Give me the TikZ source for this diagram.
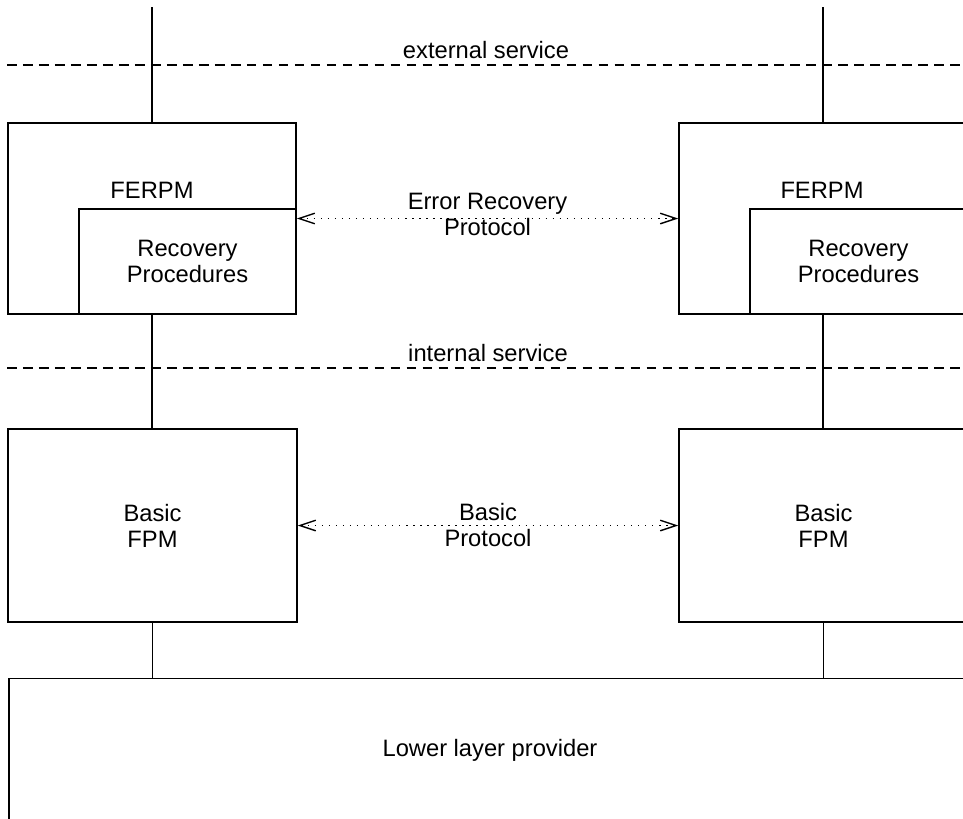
\documentclass[tikz,border=0pt]{standalone}
\usepackage{fontspec}
\setmainfont{Liberation Sans}
\usetikzlibrary{arrows.meta}

\begin{document}
\begin{tikzpicture}[x=0.02cm, y=-0.02cm,
  font=\fontsize{13.5}{14.8}\selectfont,
  box/.style={draw, line width=0.9pt, inner sep=0pt, align=center},
  link/.style={line width=0.8pt},
  servline/.style={line width=0.8pt, dash pattern=on 5.5pt off 3.6pt},
  proto/.style={line width=0.8pt, dash pattern=on 0.8pt off 3.2pt,
    {Straight Barb[length=9pt,width=6pt,line width=0.8pt]}-{Straight Barb[length=9pt,width=6pt,line width=0.8pt]}},
  plabel/.style={midway, align=center}]
\useasboundingbox (0,0) rectangle (963,818);
\clip (0,0) rectangle (963,818);

% service boundaries
\coordinate (extW) at (7,65);
\coordinate (extE) at (963,65);
\coordinate (intW) at (7,368);
\coordinate (intE) at (963,368);
\draw[servline] (extW) -- (extE);
\draw[servline] (intW) -- (intE);
\node (extlbl) at (486,50) {external service};
\node (intlbl) at (488,353.5) {internal service};

% FERPM entities
\node[box, minimum width=5.76cm, minimum height=3.82cm] (ferpmL) at (152,218.5) {};
\node[box, minimum width=4.34cm, minimum height=2.1cm, anchor=south east] (recL) at (ferpmL.south east) {Recovery\\Procedures};
\node (ttlL) at (152,190) {FERPM};
\node[box, minimum width=5.76cm, minimum height=3.82cm] (ferpmR) at (823,218.5) {};
\node[box, minimum width=4.34cm, minimum height=2.1cm, anchor=south east] (recR) at (ferpmR.south east) {Recovery\\Procedures};
\node (ttlR) at (822,190) {FERPM};

% basic FPM entities
\node[box, minimum width=5.78cm, minimum height=3.86cm] (basicL) at (152.5,525.5) {Basic\\FPM};
\node[box, minimum width=5.78cm, minimum height=3.86cm] (basicR) at (823.5,525.5) {Basic\\FPM};

% provider below
\node[box, minimum width=19.24cm, minimum height=2.86cm] (lower) at (490,750) {Lower layer provider};

% vertical links
\coordinate (topL) at (152,7);
\coordinate (topR) at (823,7);
\draw[link] (topL) -- (ferpmL.north);
\draw[link] (topR) -- (ferpmR.north);
\draw[link] (ferpmL.south) -- (ferpmL.south |- basicL.north);
\draw[link] (ferpmR.south) -- (ferpmR.south |- basicR.north);
\draw[link] (basicL.south) -- (basicL.south |- lower.north);
\draw[link] (basicR.south) -- (basicR.south |- lower.north);

% peer protocols
\draw[proto] (ferpmL.east) -- (ferpmR.west) node[plabel, yshift=2.3pt] (erp) {Error Recovery\\Protocol};
\draw[proto] (basicL.east) -- (basicR.west) node[plabel] (bp) {Basic\\Protocol};
\end{tikzpicture}
\end{document}
